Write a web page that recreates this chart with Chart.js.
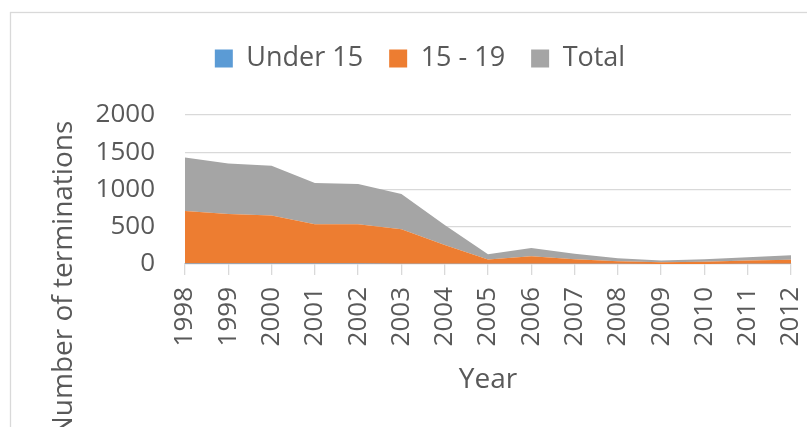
<!DOCTYPE html>
<html>
<head>
<meta charset="utf-8">
<script src="https://cdn.jsdelivr.net/npm/chart.js@4/dist/chart.umd.min.js"></script>
<style>
  body { margin: 0; background: #fff; }
  #wrap { width: 807px; height: 427px; position: relative; }
</style>
</head>
<body>
<div id="wrap"><canvas id="areaChart"></canvas></div>
<script>
const years = ['1998', '1999', '2000', '2001', '2002', '2003', '2004', '2005',
               '2006', '2007', '2008', '2009', '2010', '2011', '2012'];
const under15 = [8, 8, 8, 6, 6, 5, 4, 2, 4, 3, 2, 1, 1, 2, 2];
const age15to19 = [702, 662, 642, 528, 528, 462, 252, 60, 100, 62, 36, 22, 28, 44, 56];
const total = [720, 680, 668, 552, 540, 472, 268, 68, 112, 72, 38, 24, 34, 46, 58];
const yTicks = [0, 500, 1000, 1500, 2000];

const textColor = '#595959';
const gridColor = '#d9d9d9';
Chart.defaults.font.family = "'Open Sans', sans-serif";
Chart.defaults.color = textColor;

// taller legend box so the plot starts lower
const legendHeight = {
    id: 'legendHeight',
    beforeInit(chart) {
        const fit = chart.legend.fit;
        chart.legend.fit = function () {
            fit.call(this);
            this.height = 96;
        };
    }
};

// chart border and the y axis title (it is not centred on the plot in the original)
const frame = {
    id: 'frame',
    beforeDraw(chart) {
        const c = chart.ctx;
        c.save();
        c.strokeStyle = gridColor;
        c.lineWidth = 1.3;
        c.strokeRect(10.5, 12.5, 1000, 1000);
        c.restore();
    },
    afterDraw(chart) {
        const c = chart.ctx;
        c.save();
        c.translate(64, 279);
        c.rotate(-Math.PI / 2);
        c.font = "28px 'Open Sans', sans-serif";
        c.fillStyle = textColor;
        c.textAlign = 'center';
        c.textBaseline = 'middle';
        c.fillText('Number of terminations', 0, 0);
        c.restore();
    }
};

const ctx = document.getElementById('areaChart').getContext('2d');

new Chart(ctx, {
    type: 'line',
    data: {
        labels: years,
        datasets: [
            {
                label: 'Under 15',
                data: under15,
                backgroundColor: '#5b9bd5',
                borderColor: '#5b9bd5',
                borderWidth: 0,
                fill: 'origin'
            },
            {
                label: '15 - 19',
                data: age15to19,
                backgroundColor: '#ed7d31',
                borderColor: '#ed7d31',
                borderWidth: 0,
                fill: '-1'
            },
            {
                label: 'Total',
                data: total,
                backgroundColor: '#a5a5a5',
                borderColor: '#a5a5a5',
                borderWidth: 0,
                fill: '-1'
            }
        ]
    },
    options: {
        responsive: true,
        maintainAspectRatio: false,
        animation: false,
        layout: { padding: { top: 19, left: 49, right: 16, bottom: 0 } },
        elements: {
            point: { radius: 0 },
            line: { tension: 0 }
        },
        plugins: {
            tooltip: { enabled: false },
            legend: {
                position: 'top',
                labels: {
                    boxWidth: 18,
                    boxHeight: 18,
                    padding: 26,
                    color: textColor,
                    font: { size: 27 }
                }
            }
        },
        scales: {
            x: {
                offset: false,
                grid: {
                    drawOnChartArea: false,
                    drawTicks: true,
                    tickLength: 11,
                    color: gridColor,
                    lineWidth: 1.3
                },
                border: { color: gridColor, width: 1.3 },
                ticks: {
                    autoSkip: false,
                    minRotation: 90,
                    maxRotation: 90,
                    padding: 12,
                    font: { size: 26 }
                },
                title: {
                    display: true,
                    text: 'Year',
                    font: { size: 28 },
                    padding: { top: 0, bottom: 30 }
                },
                afterFit(scale) {
                    scale.height = 163;
                    scale.paddingLeft = 0;
                    scale.paddingRight = 0;
                }
            },
            y: {
                stacked: true,
                min: 0,
                max: 2000,
                afterBuildTicks(scale) {
                    scale.ticks = yTicks.map(v => ({ value: v }));
                },
                ticks: {
                    padding: 30,
                    font: { size: 26 },
                    callback: v => String(v)
                },
                grid: { color: gridColor, lineWidth: 1.3, drawTicks: false },
                border: { display: false },
                afterFit(scale) { scale.width = 136; }
            }
        }
    },
    plugins: [legendHeight, frame]
});
</script>
</body>
</html>
